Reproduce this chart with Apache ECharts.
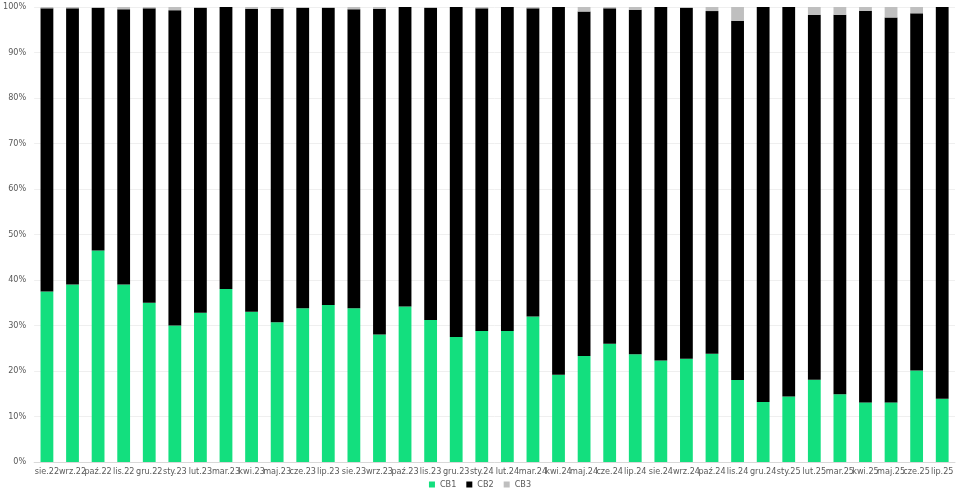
<!DOCTYPE html>
<html>
<head>
<meta charset="utf-8">
<script src="https://cdn.jsdelivr.net/npm/echarts@6/dist/echarts.min.js"></script>
<style>html,body{margin:0;padding:0;background:#fff}#c{width:960px;height:495px}</style>
</head>
<body>
<div id="c"></div>
<script>
const months = ['sie.22','wrz.22','paź.22','lis.22','gru.22','sty.23','lut.23','mar.23','kwi.23','maj.23','cze.23','lip.23',
  'sie.23','wrz.23','paź.23','lis.23','gru.23','sty.24','lut.24','mar.24','kwi.24','maj.24','cze.24','lip.24',
  'sie.24','wrz.24','paź.24','lis.24','gru.24','sty.25','lut.25','mar.25','kwi.25','maj.25','cze.25','lip.25'];
const cb1 = [37.5,39,46.5,39,35,30,32.8,38,33,30.7,33.8,34.5,33.8,28,34.2,31.2,27.5,28.8,28.8,32,19.2,23.3,26,23.7,22.3,22.7,23.8,18,13.2,14.4,18.1,14.9,13.1,13.1,20.1,13.9];
const cb2 = [62.2,60.7,53.3,60.5,64.7,69.3,67,62,66.6,68.9,66,65.3,65.7,71.6,65.8,68.6,72.5,70.9,71.2,67.7,80.8,75.7,73.7,75.7,77.7,77.1,75.3,79,86.8,85.6,80.2,83.4,86.1,84.6,78.5,86.1];
const cb3 = [0.3,0.3,0.2,0.5,0.3,0.7,0.2,0,0.4,0.4,0.2,0.2,0.5,0.4,0,0.2,0,0.3,0,0.3,0,1,0.3,0.6,0,0.2,0.9,3,0,0,1.7,1.7,0.8,2.3,1.4,0];

const chart = echarts.init(document.getElementById('c'));
const lbl = {color:'#595959', fontFamily:"'Liberation Sans Narrow', 'DejaVu Sans Condensed', sans-serif", fontSize:9};
const mk = (name, data, color) => ({name, type:'bar', stack:'a', data, barWidth:'50%', itemStyle:{color}});
chart.setOption({
  animation:false,
  grid:{left:28, right:5, top:7, bottom:33},
  legend:{bottom:1, left:'center', icon:'rect', itemWidth:6, itemHeight:6, itemGap:10, textStyle:lbl,
    data:['CB1','CB2','CB3']},
  xAxis:{type:'category', data:months, axisLabel:Object.assign({interval:0, margin:5}, lbl),
    axisTick:{show:false}, axisLine:{lineStyle:{color:'#d9d9d9'}}},
  yAxis:{type:'value', min:0, max:100, interval:10, axisLabel:Object.assign({formatter:'{value}%'}, lbl),
    splitLine:{lineStyle:{color:'#efefef'}}},
  series:[mk('CB1', cb1, '#13df7e'), mk('CB2', cb2, '#000000'), mk('CB3', cb3, '#bfbfbf')]
});
</script>
</body>
</html>
